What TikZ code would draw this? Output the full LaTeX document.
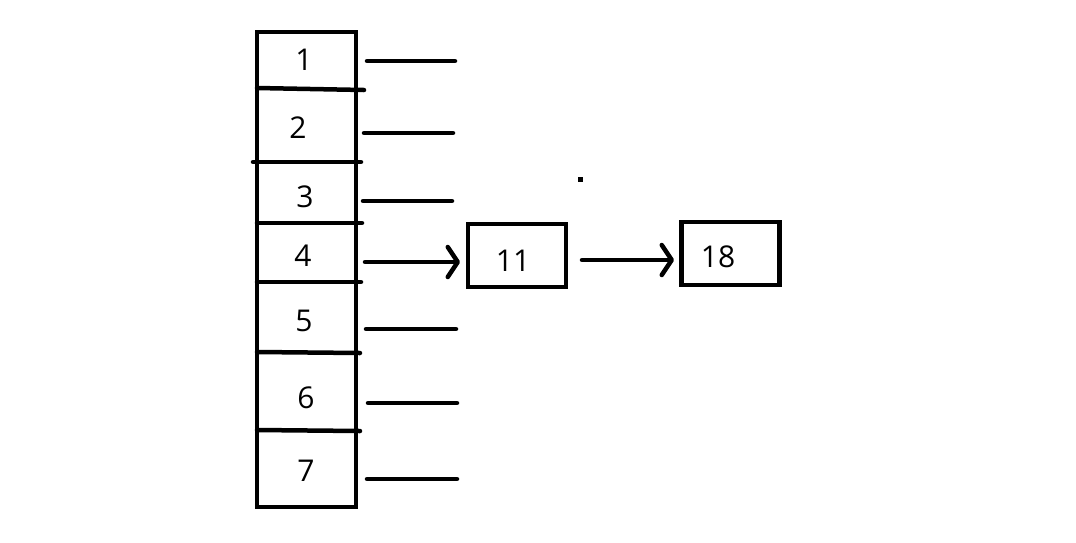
\documentclass[tikz,border=0pt]{standalone}
\usepackage{fontspec}
\setmainfont{Open Sans}
\usetikzlibrary{arrows.meta}
\begin{document}
\begin{tikzpicture}[x=1pt,y=-1pt,
  ink/.style={line width=4.5pt,line cap=round},
  num/.style={font=\fontsize{30}{35}\selectfont,inner sep=0pt,anchor=center},
  boxnode/.style={draw,line width=4.5pt,minimum width=98pt,minimum height=63pt,inner sep=0pt},
  arr/.style={ink,-{Straight Barb[length=10pt,width=30pt,line cap=round,line join=round]}}]
\useasboundingbox (0,0) rectangle (1076,542);
% list outline
\draw[line width=4.5pt,line join=miter] (257,32) rectangle (356,507);
% dividers
\draw[ink] (257,88) -- (364,90);
\draw[ink] (253,162) -- (361,162);
\draw[ink] (257,223) -- (362,223);
\draw[ink] (257,282) -- (361,282);
\draw[ink] (257,352) -- (360,353);
\draw[ink] (257,430) -- (360,431);
% numbers
\node[num] (n1) at (304,60) {1};
\node[num] (n2) at (298,128) {2};
\node[num] (n3) at (305,197) {3};
\node[num] (n4) at (303,256) {4};
\node[num] (n5) at (304,321) {5};
\node[num] (n6) at (306,398) {6};
\node[num] (n7) at (306,471) {7};
% short lines
\coordinate (a1) at (367,61);  \coordinate (b1) at (455,61);
\coordinate (a2) at (364,133); \coordinate (b2) at (453,133);
\coordinate (a3) at (363,201); \coordinate (b3) at (452,201);
\coordinate (a5) at (366,329); \coordinate (b5) at (456,329);
\coordinate (a6) at (368,403); \coordinate (b6) at (457,403);
\coordinate (a7) at (367,479); \coordinate (b7) at (457,479);
\foreach \i in {1,2,3,5,6,7} \draw[ink] (a\i) -- (b\i);
% boxes
\node[boxnode] (k11) at (517,255.5) {};
\node[num] (t11) at (513,261) {11};
\node[boxnode] (k18) at (730.5,253.5) {};
\node[num] (t18) at (718,257) {18};
% arrows
\coordinate (a4) at (365,262);
\coordinate (h4) at (460,262);
\draw[arr] (a4) -- (h4);
\coordinate (s11) at (582,260);
\coordinate (h11) at (674,260);
\draw[arr] (s11) -- (h11);
% dot
\fill (578,177) rectangle (583,182);
\end{tikzpicture}
\end{document}
